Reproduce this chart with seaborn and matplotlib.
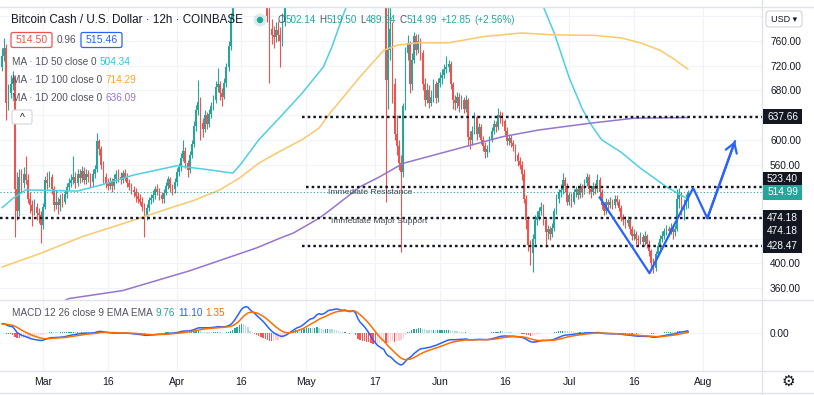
import numpy as np
import pandas as pd
import matplotlib
matplotlib.use("Agg")
import matplotlib.pyplot as plt
import matplotlib.dates as mdates
import matplotlib.transforms as mtransforms
from matplotlib.patches import Rectangle, FancyBboxPatch, Circle
from matplotlib.lines import Line2D
import seaborn as sns

# ---------------- data (BCH/USD, 12h candles, Coinbase) ----------------
LAST_BAR = "2021-07-28 12:00"
first_open = 718.0

# closes, two candles per day (00:00 and 12:00), Feb 19 12:00 -> Jul 28 12:00
closes = [
    735,
    748, 660, 675, 690, 700, 520, 485, 540, 530, 545, 535, 505, 495, 485, 492, 482, 478, 462,
    492, 535, 530, 540, 520, 495, 500, 494, 505, 500, 512, 524, 530, 535, 540, 530,
    545, 538, 550, 535, 545, 540, 532, 545, 552, 598, 585, 560, 540, 530, 526, 532,
    525, 536, 545, 540, 535, 546, 540, 530, 524, 519, 515, 509, 505, 500, 492, 478,
    490, 502, 506, 510, 520, 516, 510, 504, 514, 526, 536, 522, 520, 532,
    548, 556, 570, 582, 562, 551, 576, 594, 622, 648, 662, 628, 618, 640, 626, 642,
    655, 664, 686, 690, 676, 670, 692, 718, 752, 795, 900, 980, 1080, 1150, 1220, 1180,
    1150, 1100, 950, 1000, 1000, 950, 950, 920, 900, 860, 800, 780, 770, 766, 778, 770,
    760, 790, 850, 880, 930, 950, 980, 1000, 1010, 990, 1050, 1100,
    1150, 1180, 1200, 1160, 1250, 1350, 1300, 1220, 1300, 1380, 1450, 1430, 1420, 1460,
    1480, 1450, 1440, 1480, 1540, 1460, 1500, 1560, 1620, 1400, 1200, 1250, 1300, 1260,
    1200, 1130, 1050, 1000, 990, 960, 980, 950, 940, 697, 745, 780, 690, 610,
    590, 562, 548, 654, 740, 756, 690, 730, 768, 745, 760, 740, 690, 665, 680, 660,
    670, 690, 668, 692,
    700, 705, 715, 718, 722, 690, 665, 660, 670, 655, 665, 650, 665, 605, 600, 615,
    637, 610, 620, 600, 590, 580, 585, 600, 615, 625, 620, 640, 635, 630, 615, 598,
    603, 595, 590, 575, 565, 560, 545, 505, 470, 430, 416, 440, 470, 475, 485, 492,
    470, 450, 455, 448, 458, 485, 505, 515, 519, 535, 525, 500,
    510, 500, 515, 520, 510, 525, 515, 530, 540, 520, 515, 525, 520, 535, 515, 495,
    485, 500, 495, 500, 495, 505, 500, 490, 475, 470, 465, 470, 455, 445, 448, 440,
    438, 442, 435, 445, 432, 420, 400, 392, 415, 428, 440, 445, 452, 455, 452, 458,
    450, 455, 505, 510, 486, 495, 502.14, 514.99,
]
highs = [
    748,
    765, 755, 690, 705, 712, 705, 548, 552, 552, 556, 573, 545, 515, 502, 505, 498, 490, 484,
    498, 541, 548, 550, 545, 525, 519, 508, 512, 514, 518, 530, 538, 545, 573, 548,
    552, 552, 558, 556, 552, 551, 546, 552, 560, 611, 602, 590, 565, 546, 538, 540,
    538, 544, 551, 552, 548, 551, 552, 546, 536, 530, 526, 522, 516, 512, 508, 498,
    496, 508, 512, 518, 526, 528, 522, 515, 520, 532, 542, 540, 528, 538,
    555, 562, 578, 600, 588, 568, 582, 600, 630, 656, 697, 670, 635, 648, 645, 650,
    662, 672, 695, 716, 695, 684, 700, 725, 760, 805, 920, 1000, 1100, 1180, 1260, 1240,
    1200, 1160, 1110, 1020, 1030, 1010, 970, 960, 930, 910, 870, 815, 795, 785, 790, 792,
    782, 805, 860, 895, 945, 965, 995, 1020, 1030, 1025, 1065, 1120,
    1170, 1200, 1230, 1215, 1270, 1380, 1370, 1310, 1320, 1400, 1480, 1470, 1450, 1480,
    1510, 1490, 1470, 1500, 1570, 1550, 1520, 1580, 1650, 1630, 1420, 1280, 1340, 1320,
    1270, 1210, 1140, 1060, 1020, 1000, 1010, 990, 975, 960, 820, 830, 790, 700,
    640, 600, 575, 660, 750, 770, 760, 740, 775, 772, 772, 765, 745, 700, 692, 688,
    680, 698, 695, 700,
    710, 715, 722, 735, 730, 728, 694, 672, 678, 675, 672, 670, 672, 668, 615, 622,
    645, 640, 628, 625, 606, 596, 592, 606, 620, 632, 630, 651, 646, 645, 634, 620,
    610, 608, 600, 594, 580, 572, 566, 552, 510, 476, 438, 448, 478, 485, 492, 500,
    496, 475, 462, 460, 465, 490, 512, 520, 528, 546, 540, 530,
    516, 514, 520, 526, 524, 530, 528, 536, 546, 544, 526, 532, 530, 545, 540, 520,
    500, 506, 505, 508, 504, 510, 510, 505, 494, 480, 476, 476, 474, 460, 455, 452,
    446, 450, 448, 452, 448, 438, 424, 408, 420, 434, 446, 452, 458, 462, 460, 466,
    462, 462, 520, 522, 515, 505, 512, 519.50,
]
lows = [
    712,
    728, 632, 648, 668, 680, 443, 470, 476, 515, 522, 528, 498, 482, 460, 478, 470, 465, 433,
    455, 488, 520, 524, 512, 485, 488, 480, 485, 492, 496, 506, 518, 524, 528, 522,
    526, 530, 532, 528, 528, 532, 524, 526, 538, 548, 575, 552, 530, 522, 518, 520,
    516, 520, 530, 532, 528, 530, 534, 524, 518, 512, 508, 500, 498, 494, 485, 443,
    470, 484, 496, 500, 505, 510, 503, 497, 498, 510, 520, 515, 510, 514,
    526, 542, 550, 565, 555, 540, 546, 570, 588, 615, 640, 600, 605, 612, 618, 620,
    636, 648, 660, 678, 665, 654, 666, 686, 712, 745, 790, 890, 970, 1060, 1140, 1150,
    1120, 1080, 900, 940, 960, 930, 920, 900, 870, 840, 790, 692, 755, 748, 758, 760,
    718, 752, 785, 840, 870, 915, 935, 965, 980, 970, 985, 1040,
    1090, 1135, 1165, 1140, 1150, 1240, 1270, 1180, 1210, 1290, 1370, 1400, 1390, 1410,
    1440, 1430, 1400, 1430, 1470, 1430, 1450, 1490, 1550, 1380, 1150, 1180, 1240, 1240,
    1180, 1110, 1020, 980, 960, 940, 950, 930, 920, 499, 650, 730, 660, 600,
    575, 551, 418, 540, 648, 730, 675, 680, 725, 738, 740, 730, 680, 655, 660, 652,
    654, 662, 660, 662,
    685, 690, 700, 708, 710, 682, 650, 648, 652, 645, 650, 644, 645, 592, 585, 592,
    610, 600, 604, 594, 582, 570, 572, 580, 596, 610, 612, 616, 628, 622, 608, 592,
    592, 588, 582, 566, 558, 552, 535, 498, 455, 420, 398, 386, 432, 462, 470, 478,
    462, 427, 440, 438, 442, 452, 480, 498, 508, 512, 515, 494,
    494, 492, 496, 508, 504, 506, 508, 512, 525, 512, 506, 510, 512, 516, 508, 488,
    478, 480, 488, 490, 488, 490, 494, 484, 468, 462, 458, 460, 448, 438, 438, 432,
    430, 432, 428, 430, 425, 412, 392, 385, 388, 410, 424, 434, 440, 446, 444, 448,
    440, 444, 452, 490, 478, 470, 488, 489.94,
]
# closes before the visible window (Feb 9 - Feb 19), only used to seed the MACD
warmup_closes = [500, 495, 490, 505, 520, 540, 560, 600, 650, 690, 700, 720, 705, 690,
                 700, 710, 690, 700, 710, 730, 720]

# daily moving averages as shown on the chart
ma50_dates = ["2021-02-19 12:00", "2021-02-22", "2021-02-25", "2021-03-03", "2021-03-09",
              "2021-03-15", "2021-03-22", "2021-03-28", "2021-04-01", "2021-04-09",
              "2021-04-14", "2021-04-16", "2021-04-20", "2021-04-25", "2021-04-30",
              "2021-05-05", "2021-05-07", "2021-05-10", "2021-05-15", "2021-05-20",
              "2021-05-27", "2021-06-05", "2021-06-13", "2021-06-20", "2021-06-25",
              "2021-06-27 12:00", "2021-07-01", "2021-07-04", "2021-07-06",
              "2021-07-08 12:00", "2021-07-13", "2021-07-17 12:00", "2021-07-23 12:00",
              "2021-07-27", "2021-07-28 12:00"]
ma50_vals = [490, 505, 519, 518, 517, 528, 543, 552, 558, 551, 546, 562, 600, 637, 675,
             718, 751, 810, 880, 940, 975, 960, 920, 870, 815, 773, 700, 650, 625, 600,
             580, 554, 524, 510, 504.34]
ma100_dates = ["2021-02-19 12:00", "2021-02-28 08:00", "2021-03-10", "2021-03-22",
               "2021-03-31 12:00", "2021-04-05", "2021-04-11", "2021-04-15 12:00",
               "2021-04-20", "2021-04-24", "2021-04-30", "2021-05-04", "2021-05-06 12:00",
               "2021-05-09", "2021-05-13 12:00", "2021-05-19", "2021-05-22", "2021-05-27",
               "2021-06-03", "2021-06-11", "2021-06-20", "2021-06-27", "2021-07-07",
               "2021-07-13", "2021-07-17 12:00", "2021-07-22", "2021-07-25",
               "2021-07-28 12:00"]
ma100_vals = [394, 416, 443, 470, 492, 502, 519, 538, 562, 578, 600, 619, 643, 664, 702,
              745, 753, 757, 757, 767, 773, 770, 769, 765, 757, 745, 732, 714.29]
ma200_dates = ["2021-02-19 12:00", "2021-03-03", "2021-03-07", "2021-03-19 12:00",
               "2021-04-04", "2021-04-19 12:00", "2021-04-25", "2021-04-28", "2021-05-04",
               "2021-05-06 12:00", "2021-05-13 12:00", "2021-05-18", "2021-05-23 12:00",
               "2021-06-08", "2021-06-15 12:00", "2021-06-24", "2021-07-06", "2021-07-16",
               "2021-07-28 12:00"]
ma200_vals = [318, 330, 343, 356, 388, 425, 441, 449, 473, 486, 524, 540, 562, 591, 605,
              616, 627, 635, 636.09]

# drawn levels: (price, start date or None for full width)
levels = [(637.66, "2021-04-30"), (523.40, "2021-05-01"), (474.18, None), (428.47, "2021-04-30")]
# hand-drawn projection path
path_dates = ["2021-07-08 00:00", "2021-07-19 14:00", "2021-07-29 17:00",
              "2021-08-02 00:00", "2021-08-08 10:00"]
path_prices = [507, 384, 522, 473, 598]

tick_dates = ["2021-03-01", "2021-03-16", "2021-04-01", "2021-04-16", "2021-05-01",
              "2021-05-17", "2021-06-01", "2021-06-16", "2021-07-01", "2021-07-16",
              "2021-08-01"]
tick_labels = ["Mar", "16", "Apr", "16", "May", "17", "Jun", "16", "Jul", "16", "Aug"]
price_ticks = [360, 400, 440, 480, 520, 560, 600, 640, 680, 720, 760, 800]
hidden_ticks = [440, 480, 520, 640, 800]  # sit behind the level tags / USD button


def to_num(dates):
    return mdates.date2num(pd.to_datetime(dates, format="ISO8601").to_pydatetime())


# ---------------- style ----------------
UP, DOWN = "#26a69a", "#ef5350"
TXT, GRID, SEP = "#131722", "#f0f3fa", "#e0e3eb"
sns.set_theme(style="white")
plt.rcParams["font.family"] = ["Liberation Sans", "DejaVu Sans"]

W, H = 814, 395
fig = plt.figure(figsize=(W / 100, H / 100), dpi=100)
pix = mtransforms.Affine2D().scale(1, -1).translate(0, H)  # pixel coords from top-left

ax = fig.add_axes([0, 95 / H, 762 / W, 293 / H])
axm = fig.add_axes([0, 24 / H, 762 / W, 71 / H])

assert len(closes) == len(highs) == len(lows)
idx = pd.date_range(end=LAST_BAR, periods=len(closes), freq="12h")
df = pd.DataFrame({"close": closes, "high": highs, "low": lows}, index=idx)
df["open"] = df["close"].shift(1).fillna(first_open)
xs = mdates.date2num(df.index.to_pydatetime())

# ---------------- candles ----------------
up = df["close"] >= df["open"]
cols = np.where(up, UP, DOWN)
ax.vlines(xs, df["low"], df["high"], colors=cols, linewidth=0.8, zorder=2)
body = np.maximum((df["close"] - df["open"]).abs(), 0.8)
ax.bar(xs, body, bottom=np.minimum(df["open"], df["close"]), width=0.4,
       color=cols, linewidth=0, zorder=2)

# moving averages
for dts, vals, c in [(ma50_dates, ma50_vals, "#4dd0e1"), (ma100_dates, ma100_vals, "#fbc86a"),
                     (ma200_dates, ma200_vals, "#9575cd")]:
    sns.lineplot(x=to_num(dts), y=vals, ax=ax, color=c, linewidth=1.1, zorder=3)

x0 = to_num(["2021-03-01"])[0] - 43 / 4.314
x1 = to_num(["2021-03-01"])[0] + 719 / 4.314
ax.set_xlim(x0, x1)
ax.set_ylim(340.7, 815.0)

# levels + current price line
for price, start in levels:
    xa = x0 if start is None else to_num([start])[0]
    ax.plot([xa, x1], [price, price], color=TXT, linewidth=1.7,
            linestyle=(0, (1.1, 1.3)), zorder=4)
ax.axhline(514.99, color=UP, linewidth=0.8, linestyle=(0, (1, 2)), zorder=4)

ax.text(to_num(["2021-05-15 19:00"])[0], 515.5, "Immediate Resistance",
        ha="center", va="center", fontsize=6.1, color="#434651", zorder=5)
ax.text(to_num(["2021-05-17 21:00"])[0], 467, "Immediate Major Support",
        ha="center", va="center", fontsize=6.1, color="#434651", zorder=5)

pxs = to_num(path_dates)
ax.plot(pxs, path_prices, color="#2962ff", linewidth=1.6, zorder=6, clip_on=False)
ax.annotate("", xy=(pxs[-1], path_prices[-1]), xytext=(pxs[-2], path_prices[-2]),
            arrowprops=dict(arrowstyle="->,head_length=0.55,head_width=0.35",
                            color="#2962ff", lw=1.6, shrinkA=0, shrinkB=0), zorder=6)

# ---------------- MACD ----------------
allc = pd.Series(warmup_closes + closes, dtype=float)
macd_all = allc.ewm(span=12, adjust=False).mean() - allc.ewm(span=26, adjust=False).mean()
sig_all = macd_all.ewm(span=9, adjust=False).mean()
macd = macd_all.iloc[-len(closes):].to_numpy()
sig = sig_all.iloc[-len(closes):].to_numpy()
hist = macd - sig
dh = np.diff(hist, prepend=hist[0])
hcols = np.where(hist >= 0, np.where(dh >= 0, "#26a69a", "#b2dfdb"),
                 np.where(dh >= 0, "#ffcdd2", "#ff5252"))
axm.bar(xs, hist, width=0.3, color=hcols, linewidth=0, zorder=2)
sns.lineplot(x=xs, y=macd, ax=axm, color="#2962ff", linewidth=1.1, zorder=3)
sns.lineplot(x=xs, y=sig, ax=axm, color="#ff6d00", linewidth=1.1, zorder=3)
s = 32 / abs(min(macd.min(), sig.min()))
axm.set_ylim(-38 / s, 33 / s)
axm.set_xlim(x0, x1)

# ---------------- axes cosmetics ----------------
tnums = to_num(tick_dates)
for a in (ax, axm):
    for sp in a.spines.values():
        sp.set_visible(False)
    a.set_xticks(tnums)
    a.grid(True, color=GRID, linewidth=0.8, zorder=0)
    a.set_axisbelow(True)
    a.yaxis.tick_right()
    a.tick_params(axis="y", length=0, pad=5.8, labelsize=7.3, labelcolor=TXT)
    a.set_xlabel("")
    a.set_ylabel("")
ax.tick_params(axis="x", length=0, labelbottom=False)
axm.set_xticklabels(tick_labels)
axm.tick_params(axis="x", length=0, pad=4, labelsize=7.5, labelcolor=TXT)
ax.set_yticks(price_ticks)
ax.set_yticklabels(["" if v in hidden_ticks else f"{v:.2f}" for v in price_ticks])
axm.set_yticks([0])
axm.set_yticklabels(["0.00"])

# separators
for xy in [([0, W], [300, 300]), ([0, W], [371, 371]), ([762, 762], [0, H]),
           ([0, W], [6.5, 6.5]), ([0, W], [393, 393])]:
    fig.add_artist(Line2D(xy[0], xy[1], transform=pix, color=SEP, linewidth=1))

# price tags on the scale
tags = [(637.66, "#131722", 0), (523.40, "#131722", -8), (514.99, UP, 0),
        (474.18, "#131722", 0), (474.18, "#131722", 13), (428.47, "#131722", 0)]
for price, bg, off in tags:
    yy = H - ax.transData.transform((x1, price))[1] + off
    fig.add_artist(Rectangle((763, yy - 7.5), 39, 15, transform=pix, facecolor=bg,
                             edgecolor="none", zorder=5))
    fig.text(782.5, yy, f"{price:.2f}", transform=pix, ha="center", va="center",
             fontsize=7.3, color="white", zorder=6)

# USD box and gear
fig.add_artist(FancyBboxPatch((766, 11), 36, 16, boxstyle="round,pad=0,rounding_size=3",
                              transform=pix, facecolor="white", edgecolor="#d1d4dc", lw=0.8))
fig.text(784, 19.5, "USD ▾", transform=pix, ha="center", va="center", fontsize=6.5, color=TXT)
fig.text(788, 382, "⚙", transform=pix, ha="center", va="center", fontsize=11, color=TXT)


# ---------------- legends ----------------
def pieces(x, y, parts, size, gap=3):
    r = fig.canvas.get_renderer()
    for txt, c in parts:
        t = fig.text(x, y, txt, transform=pix, ha="left", va="center", fontsize=size, color=c)
        x += t.get_window_extent(renderer=r).width + gap


GREY = "#50535e"
fig.text(11, 20, "Bitcoin Cash / U.S. Dollar · 12h · COINBASE", transform=pix,
         ha="left", va="center", fontsize=8.4, color=TXT)
fig.add_artist(Circle((260, 20), 6.5, transform=pix, color=UP, alpha=0.18, lw=0))
fig.add_artist(Circle((260, 20), 3.2, transform=pix, color=UP, lw=0))
r = fig.canvas.get_renderer()
xo = 278
for lab, val in [("O", "502.14"), ("H", "519.50"), ("L", "489.94"), ("C", "514.99"),
                 ("", "+12.85"), ("", "(+2.56%)")]:
    if lab:
        t = fig.text(xo, 20, lab, transform=pix, ha="left", va="center", fontsize=7.1, color=GREY)
        xo += t.get_window_extent(renderer=r).width
    t = fig.text(xo, 20, val, transform=pix, ha="left", va="center", fontsize=7.1, color=UP)
    xo += t.get_window_extent(renderer=r).width + 3.5

for x_, w_, txt, c in [(11, 41, "514.50", DOWN), (81, 41, "515.46", "#2962ff")]:
    fig.add_artist(FancyBboxPatch((x_, 32.5), w_, 15, boxstyle="round,pad=0,rounding_size=2",
                                  transform=pix, facecolor="white", edgecolor=c, lw=0.9))
    fig.text(x_ + w_ / 2, 40, txt, transform=pix, ha="center", va="center", fontsize=7.6, color=c)
fig.text(66, 40, "0.96", transform=pix, ha="center", va="center", fontsize=7.2, color=GREY)

pieces(12, 62, [("MA · 1D 50 close 0", GREY), ("504.34", "#26c6da")], 7.2)
pieces(12, 80, [("MA · 1D 100 close 0", GREY), ("714.29", "#f5a623")], 7.2)
pieces(12, 98, [("MA · 1D 200 close 0", GREY), ("636.09", "#9575cd")], 7.2)
fig.add_artist(FancyBboxPatch((12, 110), 20, 14, boxstyle="round,pad=0,rounding_size=2",
                              transform=pix, facecolor="white", edgecolor="#d1d4dc", lw=0.8))
fig.text(22, 118, "^", transform=pix, ha="center", va="center", fontsize=7.5, color=TXT)

pieces(12, 313, [("MACD 12 26 close 9 EMA EMA", GREY), ("9.76", UP), ("11.10", "#2962ff"),
                 ("1.35", "#ff6d00")], 7.2)

fig.savefig("out.png", dpi=100)
